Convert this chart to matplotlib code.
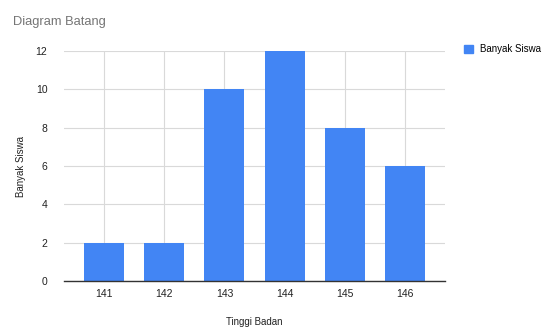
import matplotlib.pyplot as plt
import matplotlib.patches as mpatches

plt.rcParams['font.family'] = ['Liberation Sans', 'DejaVu Sans']

# Data
tinggi = ['141', '142', '143', '144', '145', '146']
siswa = [2, 2, 10, 12, 8, 6]
yticks = [0, 2, 4, 6, 8, 10, 12]

blue = '#4285f4'
grid_c = '#d9d9d9'
text_c = '#222222'

fig = plt.figure(figsize=(5.5, 3.36), dpi=100)
ax = fig.add_axes([0.1164, 0.1637, 0.6927, 0.6845])

x = range(len(tinggi))
ax.bar(x, siswa, width=0.667, color=blue, zorder=3)

ax.set_xlim(-0.667, len(tinggi) - 0.333)
ax.set_ylim(0, 12)
ax.set_yticks(yticks)
ax.set_xticks(list(x))
ax.set_xticklabels(tinggi)

ax.grid(True, color=grid_c, linewidth=0.8, zorder=0)
for s in ['top', 'right', 'left']:
    ax.spines[s].set_visible(False)
ax.spines['bottom'].set_color('#333333')
ax.spines['bottom'].set_linewidth(1.0)
ax.spines['bottom'].set_zorder(4)
ax.tick_params(axis='both', length=0, labelsize=7.5, colors=text_c)
ax.tick_params(axis='y', pad=12)
ax.tick_params(axis='x', pad=6)

ax.set_xlabel('Tinggi Badan', fontsize=7, color=text_c, labelpad=13)
ax.set_ylabel('Banyak Siswa', fontsize=7, color=text_c, labelpad=7)

fig.text(13 / 550, 1 - 22 / 336, 'Diagram Batang', fontsize=9.3, color='#757575',
         va='center', ha='left')

handle = mpatches.Patch(color=blue, label='Banyak Siswa')
fig.legend(handles=[handle], loc='center left', bbox_to_anchor=(455 / 550, 1 - 49 / 336),
           frameon=False, fontsize=7, handlelength=0.9, handleheight=0.9, handletextpad=0.8)

fig.savefig('out.png', dpi=100)
